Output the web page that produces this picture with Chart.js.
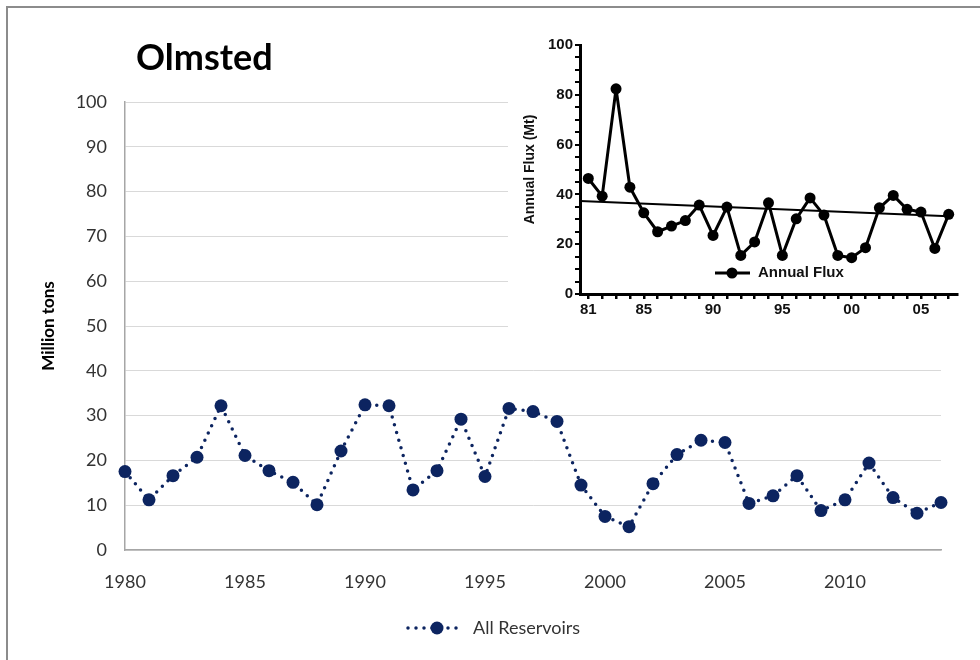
<!DOCTYPE html>
<html>
<head>
<meta charset="utf-8">
<script src="https://cdn.jsdelivr.net/npm/chart.js@4.4.1/dist/chart.umd.min.js"></script>
<style>
  html, body { margin: 0; padding: 0; background: #fff; }
  #wrap { position: relative; width: 980px; height: 660px; overflow: hidden; }
  #frame { position: absolute; left: 6px; top: 6px; width: 980px; height: 660px;
           border-top: 2px solid #8c8c8c; border-left: 2px solid #8c8c8c; box-sizing: border-box; }
  #title { position: absolute; left: 136px; top: 34px; font: bold 36px Lato, sans-serif; color: #000; }
  #mainChart { position: absolute; left: 0; top: 0; }
  #inset { position: absolute; left: 508px; top: 28px; width: 460px; height: 305px; background: #fff; }
</style>
</head>
<body>
<div id="wrap">
  <canvas id="mainChart" width="980" height="660"></canvas>
  <div id="frame"></div>
  <div id="title">Olmsted</div>
  <div id="inset"><canvas id="insetChart" width="460" height="305"></canvas></div>
</div>
<script>
// main chart: All Reservoirs, 1980-2014
const years = [1980, 1981, 1982, 1983, 1984, 1985, 1986, 1987, 1988, 1989,
               1990, 1991, 1992, 1993, 1994, 1995, 1996, 1997, 1998, 1999,
               2000, 2001, 2002, 2003, 2004, 2005, 2006, 2007, 2008, 2009,
               2010, 2011, 2012, 2013, 2014];
const allReservoirs = [17.5, 11.2, 16.6, 20.7, 32.2, 21.1, 17.7, 15.1, 10.1, 22.1,
                       32.4, 32.2, 13.4, 17.7, 29.2, 16.4, 31.6, 30.9, 28.7, 14.5,
                       7.5, 5.2, 14.8, 21.3, 24.5, 24.0, 10.4, 12.1, 16.6, 8.8,
                       11.2, 19.4, 11.7, 8.2, 10.6];

// inset: Annual Flux, 1981-2007
const fluxYears = [1981, 1982, 1983, 1984, 1985, 1986, 1987, 1988, 1989, 1990,
                   1991, 1992, 1993, 1994, 1995, 1996, 1997, 1998, 1999, 2000,
                   2001, 2002, 2003, 2004, 2005, 2006, 2007];
const annualFlux = [46.4, 39.3, 82.4, 42.9, 32.6, 25.0, 27.3, 29.5, 35.7, 23.5,
                    34.9, 15.5, 20.9, 36.6, 15.5, 30.2, 38.6, 31.7, 15.5, 14.6,
                    18.6, 34.6, 39.6, 34.0, 32.9, 18.3, 32.0];
const trendYears = [1980.4, 2007];
const trendValues = [37.3, 31.2];

const navy = '#0c2460';
const tickColor = '#333333';

const mainLegend = {
  id: 'mainLegend',
  afterDraw(chart) {
    const ctx = chart.ctx;
    const y = 628;
    ctx.save();
    ctx.strokeStyle = navy;
    ctx.lineWidth = 3.5;
    ctx.lineCap = 'round';
    ctx.setLineDash([0, 8]);
    ctx.beginPath();
    ctx.moveTo(408, y);
    ctx.lineTo(462, y);
    ctx.stroke();
    ctx.setLineDash([]);
    ctx.fillStyle = navy;
    ctx.beginPath();
    ctx.arc(437, y, 6.5, 0, Math.PI * 2);
    ctx.fill();
    ctx.fillStyle = tickColor;
    ctx.font = '18px Lato, sans-serif';
    ctx.textBaseline = 'middle';
    ctx.fillText('All Reservoirs', 473, y);
    ctx.restore();
  }
};

new Chart(document.getElementById('mainChart'), {
  type: 'line',
  data: {
    labels: years,
    datasets: [{
      label: 'All Reservoirs',
      data: allReservoirs,
      borderColor: navy,
      backgroundColor: navy,
      borderWidth: 3.5,
      borderDash: [0, 8],
      borderCapStyle: 'round',
      pointRadius: 6.5,
      pointHoverRadius: 6.5,
      pointBorderWidth: 0,
      tension: 0,
      clip: false
    }]
  },
  options: {
    responsive: false,
    animation: false,
    layout: { padding: { left: 0, right: 39, top: 102, bottom: 55 } },
    plugins: { legend: { display: false }, tooltip: { enabled: false } },
    scales: {
      x: {
        type: 'category',
        offset: false,
        grid: { display: false },
        border: { color: '#a6a6a6', width: 1.5 },
        afterFit(s) { s.height = 55; },
        ticks: {
          autoSkip: false,
          maxRotation: 0,
          padding: 13,
          color: tickColor,
          font: { family: 'Lato', size: 18 },
          callback(v, i) { return years[i] % 5 === 0 ? String(years[i]) : ''; }
        }
      },
      y: {
        min: 0,
        max: 100,
        afterFit(s) { s.width = 125; },
        grid: { color: '#d9d9d9', lineWidth: 1, drawTicks: false },
        border: { color: '#a6a6a6', width: 1.5 },
        ticks: { stepSize: 10, padding: 18, color: tickColor, font: { family: 'Lato', size: 18 } },
        title: {
          display: true,
          text: 'Million tons',
          color: '#000',
          font: { family: 'Lato', size: 17, weight: 'bold' },
          padding: { top: 38, bottom: 0 }
        }
      }
    }
  },
  plugins: [mainLegend]
});

const insetLegend = {
  id: 'insetLegend',
  afterDraw(chart) {
    const ctx = chart.ctx;
    const y = 245;
    ctx.save();
    ctx.strokeStyle = '#000';
    ctx.lineWidth = 3;
    ctx.beginPath();
    ctx.moveTo(207, y);
    ctx.lineTo(242, y);
    ctx.stroke();
    ctx.fillStyle = '#000';
    ctx.beginPath();
    ctx.arc(224, y, 5.5, 0, Math.PI * 2);
    ctx.fill();
    ctx.font = 'bold 15px "Liberation Sans", Arial, sans-serif';
    ctx.fillStyle = '#111';
    ctx.textBaseline = 'middle';
    ctx.fillText('Annual Flux', 250, y);
    ctx.restore();
  }
};

new Chart(document.getElementById('insetChart'), {
  type: 'line',
  data: {
    datasets: [{
      label: 'Annual Flux',
      data: fluxYears.map((x, i) => ({ x, y: annualFlux[i] })),
      borderColor: '#000',
      backgroundColor: '#000',
      borderWidth: 3,
      borderJoinStyle: 'round',
      pointRadius: 5.5,
      pointBorderWidth: 0,
      tension: 0,
      clip: false
    }, {
      label: 'Trend',
      data: trendYears.map((x, i) => ({ x, y: trendValues[i] })),
      borderColor: '#000',
      borderWidth: 2,
      pointRadius: 0,
      tension: 0
    }]
  },
  options: {
    responsive: false,
    animation: false,
    layout: { padding: { left: 0, right: 11, top: 17, bottom: 0 } },
    plugins: { legend: { display: false }, tooltip: { enabled: false } },
    scales: {
      x: {
        type: 'linear',
        min: 1980.4,
        max: 2007.6,
        afterBuildTicks(s) { s.ticks = fluxYears.map(v => ({ value: v })); },
        afterFit(s) { s.height = 39; },
        grid: { drawOnChartArea: false, drawTicks: true, tickLength: 5, color: '#000', lineWidth: 2.5 },
        border: { color: '#000', width: 3 },
        ticks: {
          autoSkip: false,
          maxRotation: 0,
          padding: 2,
          color: '#111',
          font: { family: 'Liberation Sans', size: 15, weight: 'bold' },
          callback(v) {
            return (v === 1981 || v % 5 === 0) ? String(v).slice(2) : '';
          }
        }
      },
      y: {
        min: 0,
        max: 100,
        afterFit(s) { s.width = 72; },
        grid: { drawOnChartArea: false, drawTicks: true, tickLength: 5, color: '#000', lineWidth: 2 },
        border: { color: '#000', width: 3 },
        ticks: {
          stepSize: 5,
          autoSkip: false,
          padding: 2,
          color: '#111',
          font: { family: 'Liberation Sans', size: 15, weight: 'bold' },
          callback(v) { return v % 20 === 0 ? String(v) : ''; }
        },
        title: {
          display: true,
          text: 'Annual Flux (Mt)',
          color: '#111',
          font: { family: 'Liberation Sans', size: 14, weight: 'bold' },
          padding: { top: 14, bottom: 0 }
        }
      }
    }
  },
  plugins: [insetLegend]
});
</script>
</body>
</html>
